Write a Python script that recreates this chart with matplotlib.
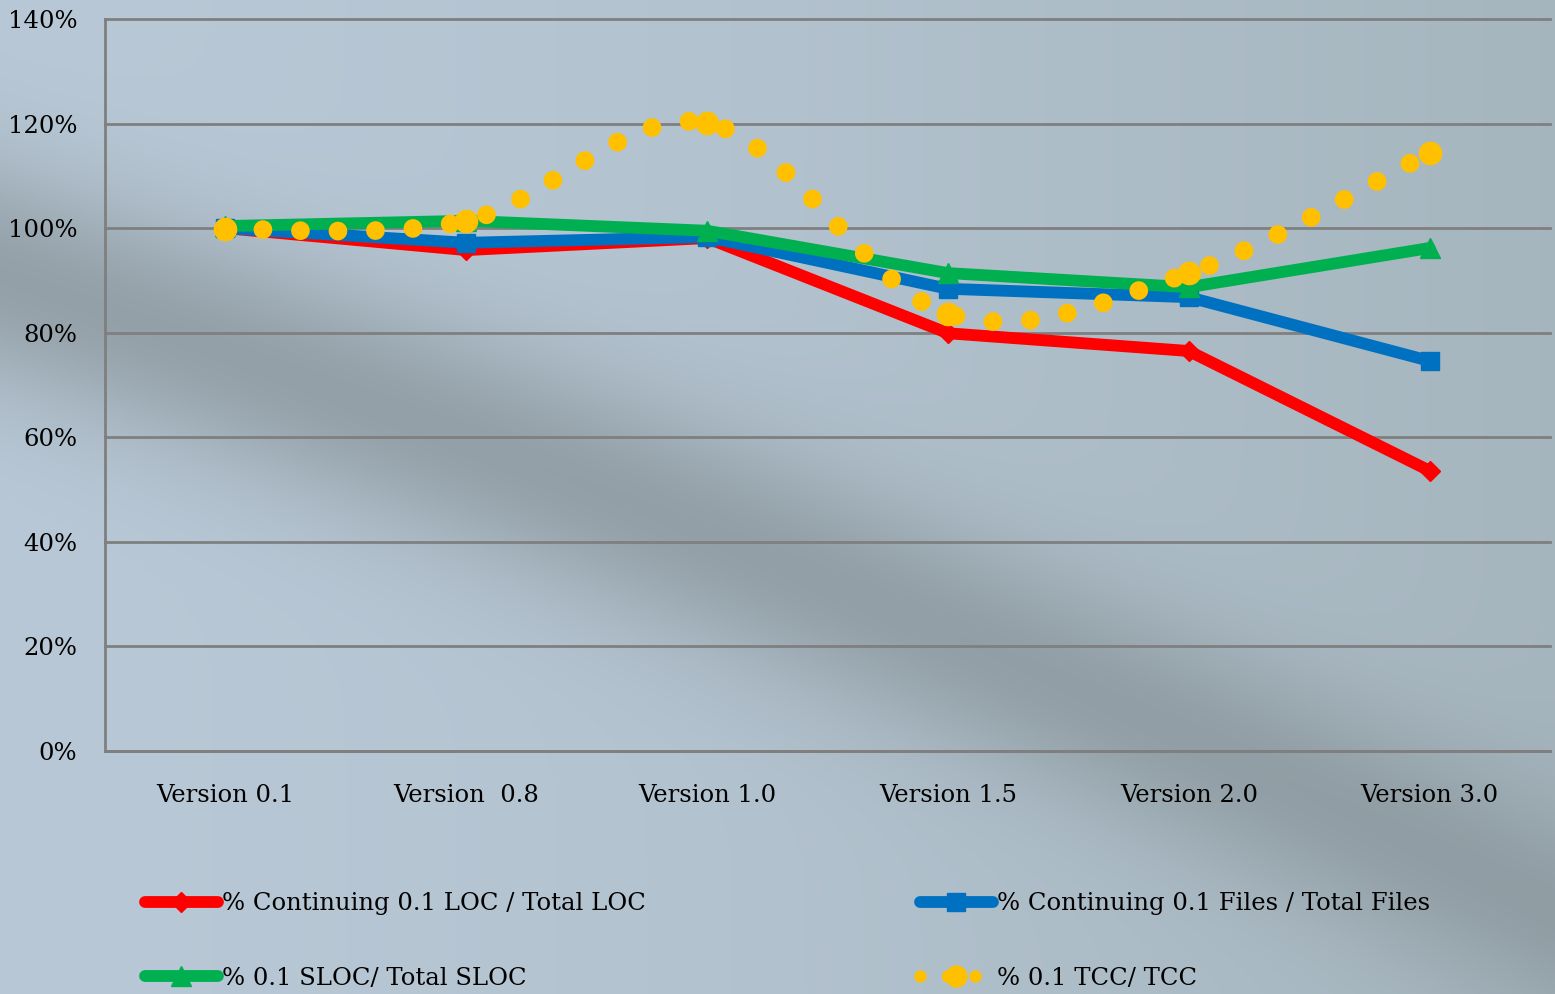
import matplotlib
matplotlib.use("Agg")

import matplotlib.pyplot as plt
import numpy as np
from matplotlib.lines import Line2D
from matplotlib.patches import PathPatch
from matplotlib.path import Path
from matplotlib.ticker import FuncFormatter, MultipleLocator


versions = [
    "Version 0.1",
    "Version  0.8",
    "Version 1.0",
    "Version 1.5",
    "Version 2.0",
    "Version 3.0",
]

# share of version 0.1 still present in each release (fractions)
loc_share = [1.000, 0.958, 0.981, 0.799, 0.765, 0.536]
files_share = [1.000, 0.972, 0.983, 0.884, 0.868, 0.746]
sloc_share = [1.004, 1.014, 0.995, 0.914, 0.887, 0.962]
tcc_share = [0.998, 1.014, 1.201, 0.836, 0.914, 1.144]

labels = [
    "% Continuing 0.1 LOC / Total LOC",
    "% Continuing 0.1 Files / Total Files",
    "% 0.1 SLOC/ Total SLOC",
    "% 0.1 TCC/ TCC",
]

RED = "#ff0000"
BLUE = "#0070c0"
GREEN = "#00b050"
YELLOW = "#ffc000"
GRID = "#7f7f7f"

W, H = 1555, 994
FONT = "DejaVu Serif"
FONT_SIZE = 17.5


def backdrop(width, height):
    """Blue-grey slide backdrop with a soft dark diagonal band."""
    yy, xx = np.mgrid[0:height, 0:width].astype(float)
    light = np.array([0.722, 0.784, 0.839])
    right = np.array([0.650, 0.712, 0.745])
    dark = np.array([0.545, 0.592, 0.616])
    t = (xx / width)[..., None] ** 1.5
    base = light * (1 - t) + right * t
    # distance to the band's centre line
    centre = 275 + 0.33 * xx + 0.00005 * xx ** 2
    d = (yy - centre) / 115.0
    shade = np.exp(-d ** 2)[..., None] * 0.8
    img = base * (1 - shade) + dark * shade
    return np.clip(img, 0, 1)


def smooth_path(xs, ys):
    """Catmull-Rom style cubic Bezier path through the points."""
    pts = np.column_stack([xs, ys]).astype(float)
    ext = np.vstack([pts[0], pts, pts[-1]])
    verts = [pts[0]]
    codes = [Path.MOVETO]
    for i in range(len(pts) - 1):
        p0, p1, p2, p3 = ext[i], ext[i + 1], ext[i + 2], ext[i + 3]
        verts += [p1 + (p2 - p0) / 6.0, p2 - (p3 - p1) / 6.0, p2]
        codes += [Path.CURVE4] * 3
    return Path(verts, codes)


def main() -> None:
    fig = plt.figure(figsize=(W / 100, H / 100), dpi=100)
    fig.figimage(backdrop(W, H), xo=0, yo=0, origin="upper", zorder=-10)

    ax = fig.add_axes([105 / W, 1 - 751 / H, 1445 / W, 732 / H])
    ax.set_facecolor("none")

    x = np.arange(len(versions))

    line_kw = dict(linewidth=8.5, solid_capstyle="round", solid_joinstyle="round")
    red, = ax.plot(x, loc_share, color=RED, marker="D", markersize=10,
                   label=labels[0], zorder=3, **line_kw)
    blue, = ax.plot(x, files_share, color=BLUE, marker="s", markersize=13,
                    label=labels[1], zorder=4, **line_kw)
    green, = ax.plot(x, sloc_share, color=GREEN, marker="^", markersize=14,
                     label=labels[2], zorder=5, **line_kw)

    dots = (0, (0.001, 2.0))
    curve = PathPatch(
        smooth_path(x, tcc_share),
        facecolor="none",
        edgecolor=YELLOW,
        linewidth=13.5,
        linestyle=dots,
        capstyle="round",
        zorder=6,
    )
    ax.add_patch(curve)
    ax.plot(x, tcc_share, linestyle="none", marker="o", markersize=16,
            color=YELLOW, zorder=7)

    ax.set_xlim(-0.5, len(versions) - 0.5)
    ax.set_ylim(0, 1.4)
    ax.yaxis.set_major_locator(MultipleLocator(0.2))
    ax.yaxis.set_major_formatter(FuncFormatter(lambda v, _: f"{v * 100:.0f}%"))
    ax.set_xticks(x)
    ax.set_xticklabels(versions)

    ax.grid(axis="y", color=GRID, linewidth=2)
    for gl in ax.get_ygridlines():
        gl.set_clip_on(False)
    ax.set_axisbelow(True)

    for side in ("top", "right"):
        ax.spines[side].set_visible(False)
    for side in ("left", "bottom"):
        ax.spines[side].set_color(GRID)
        ax.spines[side].set_linewidth(2)

    ax.tick_params(axis="both", length=0, labelcolor="black")
    ax.tick_params(axis="x", pad=24)
    ax.tick_params(axis="y", pad=20)
    for lbl in ax.get_xticklabels() + ax.get_yticklabels():
        lbl.set_fontfamily(FONT)
        lbl.set_fontsize(FONT_SIZE)

    tcc_handle = Line2D(
        [], [], color=YELLOW, linewidth=9, linestyle=(0, (0.001, 2.2)),
        dash_capstyle="round", marker="o", markersize=15, label=labels[3],
    )

    legend_kw = dict(
        loc="center left",
        frameon=False,
        borderpad=0,
        borderaxespad=0,
        handlelength=3.0,
        handletextpad=0.15,
        labelspacing=2.1,
        numpoints=1,
        prop={"family": FONT, "size": FONT_SIZE},
    )
    fig.legend(handles=[red, green], bbox_to_anchor=(145 / W, 1 - 941 / H),
               **legend_kw)
    fig.legend(handles=[blue, tcc_handle], bbox_to_anchor=(920 / W, 1 - 941 / H),
               **legend_kw)

    fig.savefig("out.png", dpi=100)
    plt.close(fig)


if __name__ == "__main__":
    main()
